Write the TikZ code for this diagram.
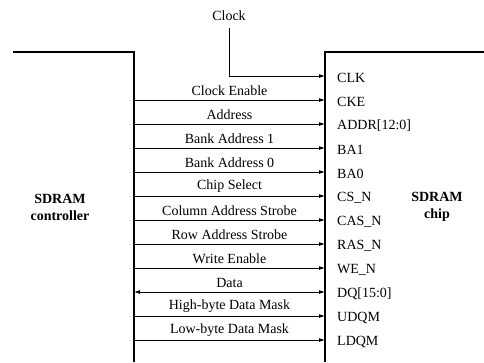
\documentclass[tikz,border=0pt]{standalone}
\usepackage{fontspec}
\setmainfont{Liberation Serif}
\usetikzlibrary{arrows.meta}
\begin{document}
\begin{tikzpicture}[x=1pt,y=-1pt,
  blockline/.style={line width=1.8pt},
  sig/.style={line width=0.8pt,-{Latex[length=6pt,width=4pt]}},
  bisig/.style={line width=0.8pt,{Latex[length=6pt,width=4pt]}-{Latex[length=6pt,width=4pt]}},
  lab/.style={font=\rmfamily\fontsize{14}{16}\selectfont,inner sep=0pt},
  blab/.style={font=\rmfamily\fontsize{14}{16}\selectfont\bfseries,inner sep=0pt,align=center}]
\useasboundingbox (0,0) rectangle (484,362);
% blocks
\draw[blockline] (13,52) -- (134,52) -- (134,362);
\draw[blockline] (484,52) -- (325,52) -- (325,362);
\node[blab] (ctrl) at (60,207) {SDRAM\\[1pt]controller};
\node[blab] (chip) at (437,207) {SDRAM\\[1pt]chip};
% clock
\node[lab] (clk) at (229,16) {Clock};
\coordinate (clktop) at (229,28);
\coordinate (clkbend) at (229,76);
\coordinate (R0) at (325,76);
\node[lab,anchor=west] (p0) at (337,77.5) {CLK};
\draw[sig] (clktop) -- (clkbend) -- (R0);
% signals
\foreach \i/\y/\name/\pin in {1/100/Clock Enable/CKE,2/124/Address/ADDR[12:0],3/148/Bank Address 1/BA1,4/172/Bank Address 0/BA0,5/196/Chip Select/CS\_N,6/220/Column Address Strobe/CAS\_N,7/244/Row Address Strobe/RAS\_N,8/268/Write Enable/WE\_N,10/316/High-byte Data Mask/UDQM,11/340/Low-byte Data Mask/LDQM}{
  \coordinate (L\i) at (134,\y);
  \coordinate (R\i) at (325,\y);
  \node[lab] (s\i) at (229.5,\y-9.5) {\name};
  \node[lab,anchor=west] (p\i) at (337,\y+1.5) {\pin};
  \draw[sig] (L\i) -- (R\i);
}
% data (bidirectional)
\coordinate (L9) at (134,292);
\coordinate (R9) at (325,292);
\node[lab] (s9) at (229.5,282.5) {Data};
\node[lab,anchor=west] (p9) at (337,293.5) {DQ[15:0]};
\draw[bisig] (L9) -- (R9);
\end{tikzpicture}
\end{document}
